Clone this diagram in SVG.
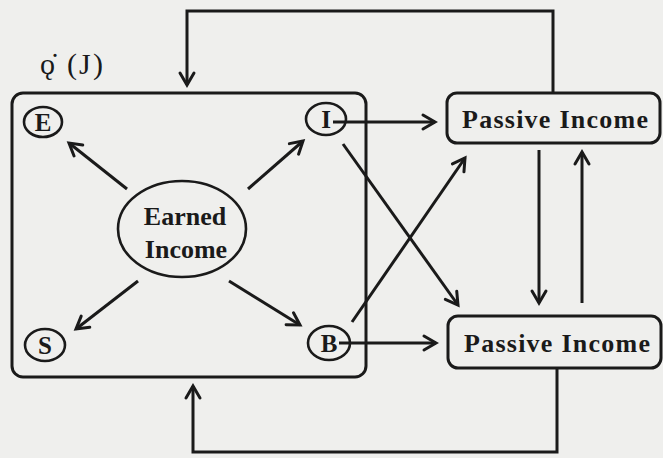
<svg xmlns="http://www.w3.org/2000/svg" width="663" height="458" viewBox="0 0 663 458">
  <defs>
    <marker id="arr" viewBox="0 0 12 12" refX="11" refY="6" markerWidth="12" markerHeight="12" markerUnits="userSpaceOnUse" orient="auto" overflow="visible">
      <path d="M-1,-1 L11,6 L-1,13" fill="none" stroke="#1a1a1a" stroke-width="3" stroke-linecap="round" stroke-linejoin="miter"/>
    </marker>
  </defs>
  <style>
    .bg { fill: #efefed; }
    .frame { fill: none; stroke: #1a1a1a; stroke-width: 3; }
    .ring { fill: none; stroke: #1a1a1a; stroke-width: 2.6; }
    .conn { fill: none; stroke: #1a1a1a; stroke-width: 3; marker-end: url(#arr); }
    .lbl { font-family: "Liberation Serif", "Times New Roman", serif; font-weight: bold; fill: #1a1a1a; text-anchor: middle; }
    .big { font-size: 26px; }
    .small { font-size: 25px; }
    .note { font-family: "Liberation Serif", "DejaVu Serif", serif; font-size: 30px; fill: #1a1a1a; }
  </style>

  <rect class="bg" x="0" y="0" width="663" height="458"/>

  <text class="note" x="40" y="74" textLength="63" lengthAdjust="spacing">ǫ̇ (J)</text>

  <!-- quadrant container -->
  <g id="quadrant">
    <rect class="frame" x="12" y="93" width="354" height="284" rx="11"/>
  </g>

  <g id="earned-income">
    <ellipse class="ring" cx="182" cy="229" rx="64" ry="48"/>
    <text class="lbl big" x="185" y="225">Earned</text>
    <text class="lbl big" x="186" y="258">Income</text>
  </g>

  <g id="node-e">
    <ellipse class="ring" cx="43" cy="122" rx="19" ry="15"/>
    <text class="lbl small" x="43" y="131">E</text>
  </g>
  <g id="node-i">
    <ellipse class="ring" cx="326" cy="119" rx="20" ry="16"/>
    <text class="lbl small" x="326" y="128">I</text>
  </g>
  <g id="node-s">
    <ellipse class="ring" cx="45" cy="345" rx="20" ry="16"/>
    <text class="lbl small" x="45" y="354">S</text>
  </g>
  <g id="node-b">
    <ellipse class="ring" cx="329" cy="343" rx="21" ry="17"/>
    <text class="lbl small" x="329" y="352">B</text>
  </g>

  <g id="passive-top">
    <rect class="frame" x="447" y="93" width="213" height="50" rx="10"/>
    <text class="lbl big" x="555" y="128" textLength="186" lengthAdjust="spacing">Passive Income</text>
  </g>
  <g id="passive-bottom">
    <rect class="frame" x="448" y="316" width="213" height="52" rx="10"/>
    <text class="lbl big" x="557" y="352" textLength="186" lengthAdjust="spacing">Passive Income</text>
  </g>

  <g id="connectors">
    <!-- earned income to the four quadrants -->
    <line class="conn" x1="127" y1="189" x2="69" y2="143"/>
    <line class="conn" x1="248" y1="189" x2="303" y2="141"/>
    <line class="conn" x1="138" y1="281" x2="76" y2="329"/>
    <line class="conn" x1="229" y1="281" x2="300" y2="325"/>
    <!-- quadrants to passive income -->
    <line class="conn" x1="333" y1="122" x2="435" y2="122"/>
    <line class="conn" x1="339" y1="343" x2="436" y2="343"/>
    <line class="conn" x1="343" y1="144" x2="458" y2="305"/>
    <line class="conn" x1="352" y1="322" x2="465" y2="158"/>
    <!-- between the passive income boxes -->
    <line class="conn" x1="539" y1="150" x2="539" y2="303"/>
    <line class="conn" x1="582" y1="303" x2="582" y2="152"/>
    <!-- feedback loops -->
    <polyline class="conn" points="553,93 553,11 187,11 187,85"/>
    <polyline class="conn" points="557,368 557,452 193,452 193,386"/>
  </g>
</svg>
